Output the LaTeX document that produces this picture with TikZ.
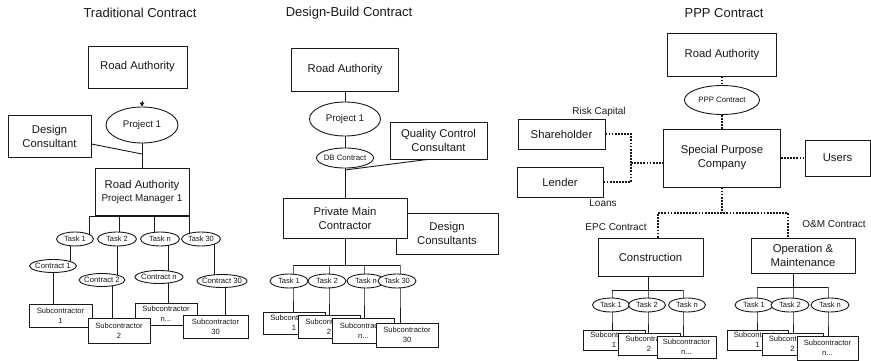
\documentclass[tikz,border=0pt]{standalone}
\usepackage{fontspec}
\setmainfont{Liberation Sans}
\usetikzlibrary{shapes.geometric,backgrounds,arrows.meta,calc}
\newcommand{\fsz}[2]{\fontsize{#1pt}{#2pt}\selectfont}
\newcommand{\ndots}{n...}

\begin{document}
\begin{tikzpicture}[x=1pt,y=-1pt,
  wire/.style={draw=black!90,line width=0.9pt},
  dots/.style={draw=black!90,line width=1.4pt,dash pattern=on 1.8pt off 1.3pt},
  sz/.style 2 args={minimum width=#1,minimum height=#2},
  box/.style={wire,fill=white,align=center,inner sep=0pt,text=black!90,font=\fsz{11.3}{14}},
  oval/.style={ellipse,wire,fill=white,inner xsep=-8pt,inner ysep=0pt,text=black!90,font=\fsz{7.5}{9}},
  subbox/.style={box,font=\fsz{7.6}{10}},
  title/.style={text=black!90,font=\fsz{13}{15}},
  tag/.style={text=black!90,font=\fsz{10}{12}}]
  \useasboundingbox (0,0) rectangle (871,361);

  % traditional contract
  \node[title] (tTitle) at (140,13) {Traditional Contract};
  \node[box,sz={99}{42}] (tRA) at (137.5,67) {Road Authority};
  \node[oval,sz={72}{36},font=\fsz{9.7}{11}] (tP1) at (142,125) {Project 1};
  \node[box,sz={83}{42}] (tDC) at (49.5,136) {Design\\Consultant};
  \node[box,sz={94}{47}] (tPM) at (142,191.5)
    {Road Authority\\[-1pt]{\fsz{9.9}{12}Project Manager 1}};
  \foreach \n/\x/\w in {1/75/37, 2/117/39, n/160/39, 30/201/39}
    \node[oval,sz={\w}{14}] (tT\n) at (\x,239) {Task \n};
  \foreach \n/\x/\y/\w in {1/53/266/47, 2/102/280/46, n/159/277/48, 30/222/281/50}
    \node[oval,sz={\w}{13},font=\fsz{7.7}{9}] (tC\n) at (\x,\y) {Contract \n};
  \foreach \n/\x/\y/\w/\h/\t in {1/60.5/315.5/63/23/1, n/166/314/62/22/\ndots, 2/119/330.5/62/25/2, 30/215.5/326.5/65/23/30}
    \node[subbox,sz={\w}{\h}] (tS\n) at (\x,\y) {Subcontractor\\\t};
  \draw[wire,-{Triangle[length=4pt,width=4.5pt]}] ($(tP1.north)+(0,-6)$) -- (tP1.north);

  % design-build contract
  \node[title] (dTitle) at (349,13) {Design-Build Contract};
  \node[box,sz={107}{43}] (dRA) at (345,69.5) {Road Authority};
  \node[oval,sz={71}{34},font=\fsz{9.7}{11}] (dP1) at (345,119) {Project 1};
  \node[oval,sz={57}{20},font=\fsz{7.8}{9}] (dDB) at (345,158) {DB Contract};
  \node[box,sz={97}{37}] (dQC) at (438.5,140.5) {Quality Control\\Consultant};
  \node[box,sz={102}{41}] (dDC) at (447,233.5) {Design\\Consultants};
  \node[box,sz={124}{40}] (dPM) at (345,218) {Private Main\\Contractor};
  \foreach \n/\x in {1/289, 2/327, n/366, 30/397}
    \node[oval,sz={38}{14}] (dT\n) at (\x,281) {Task \n};
  \foreach \n/\x/\y/\h/\t in {1/294/323/22/1, 2/329/326.5/23/2, n/363.5/330.5/25/\ndots, 30/407/335/24/30}
    \node[subbox,sz={62}{\h}] (dS\n) at (\x,\y) {Subcontractor\\\t};

  % ppp contract
  \node[title] (pTitle) at (724,13) {PPP Contract};
  \node[box,sz={109}{43}] (pRA) at (722,54.5) {Road Authority};
  \node[oval,sz={75}{29},font=\fsz{7.8}{9}] (pPC) at (722,100) {PPP Contract};
  \node[box,sz={117}{58}] (pSPC) at (722,158) {Special Purpose\\Company};
  \node[box,sz={65}{36}] (pUS) at (837.5,158) {Users};
  \node[box,sz={87}{30}] (pSH) at (561.5,134) {Shareholder};
  \node[box,sz={86}{30}] (pLE) at (560,182) {Lender};
  \node[tag] (pRC) at (599,112) {Risk Capital};
  \node[tag] (pLO) at (603,203) {Loans};
  \node[box,sz={105}{38}] (pCO) at (650.5,257) {Construction};
  \node[box,sz={104}{35}] (pOM) at (803,255.5) {Operation \&\\Maintenance};
  \node[tag] (pEPC) at (616,227) {EPC Contract};
  \node[tag] (pOMC) at (834,224) {O\&M Contract};
  \foreach \n/\x in {1/611, 2/647, n/687}
    \node[oval,sz={37}{14}] (cT\n) at (\x,305) {Task \n};
  \foreach \n/\x/\y/\w/\h/\t in {1/614/340/62/20/1, 2/649/344/62/22/2, n/686.5/347/59/22/\ndots}
    \node[subbox,sz={\w}{\h}] (cS\n) at (\x,\y) {Subcontractor\\\t};
  \foreach \n/\x in {1/754, 2/790, n/830}
    \node[oval,sz={38}{14}] (oT\n) at (\x,305) {Task \n};
  \foreach \n/\x/\y/\h/\t in {1/757.5/340/20/1, 2/792.5/344/22/2, n/827.5/348/24/\ndots}
    \node[subbox,sz={61}{\h}] (oS\n) at (\x,\y) {Subcontractor\\\t};

  \begin{scope}[on background layer]
    % traditional links
    \coordinate (tJ) at (142,154);
    \draw[wire] (tP1) -- (tPM);
    \draw[wire] ($(tDC.east)+(0,8)$) -- (tJ);
    \coordinate (tBL) at (89,216);
    \coordinate (tBR) at (189,216);
    \draw[wire] (tBL) -- (tBR);
    \foreach \n/\x in {1/89, 2/119, n/154, 30/189} {
      \coordinate (tD\n) at (\x,216);
      \draw[wire] (tD\n) -- (tD\n |- tT\n);
    }
    \foreach \n/\x in {1/70, 2/117, n/168, 30/214}
      \draw[wire] (\x,0 |- tT\n) -- (\x,0 |- tC\n);
    \foreach \n/\x in {1/53, 2/112, n/168, 30/225}
      \draw[wire] (\x,0 |- tC\n) -- (\x,0 |- tS\n);

    % design-build links
    \coordinate (dJ) at (345,170);
    \coordinate (dB) at (345,265);
    \draw[wire] (dRA) -- (dP1) -- (dDB) -- (dPM) -- (dB);
    \draw[wire] ($(dQC.south)+(-11,0)$) -- (dJ);
    \draw[wire] (293,265) -- (400,265);
    \foreach \n/\x in {1/293, 2/329, n/364, 30/400} {
      \coordinate (dD\n) at (\x,265);
      \draw[wire] (dD\n) -- (dD\n |- dT\n) -- (dD\n |- dS\n);
    }

    % ppp links
    \coordinate (pK) at (631,163);
    \coordinate (pBL) at (658,213);
    \coordinate (pBR) at (788,213);
    \draw[dots] (pRA) -- (pPC) -- (pSPC);
    \draw[dots] (pSH.east) -| (pK) |- (pLE.east);
    \draw[dots] (pK) -- (pK -| pSPC.center);
    \draw[dots] (pSPC) -- (pUS);
    \draw[dots] (pSPC) -- (pSPC |- pBL);
    \draw[dots] (pCO.north -| pBL) |- (pBR) -- (pBR |- pOM.north);
    \coordinate (cB) at (648,290);
    \draw[wire] (cB |- pCO) -- (cB);
    \draw[wire] (612,290) -- (683,290);
    \foreach \n/\x in {1/612, 2/648, n/683} {
      \coordinate (cD\n) at (\x,290);
      \draw[wire] (cD\n) -- (cD\n |- cT\n) -- (cD\n |- cS\n);
    }
    \coordinate (oB) at (793,287);
    \draw[wire] (oB |- pOM) -- (oB);
    \draw[wire] (757,287) -- (828,287);
    \foreach \n/\x in {1/757, 2/793, n/828} {
      \coordinate (oD\n) at (\x,287);
      \draw[wire] (oD\n) -- (oD\n |- oT\n) -- (oD\n |- oS\n);
    }
  \end{scope}
\end{tikzpicture}
\end{document}
